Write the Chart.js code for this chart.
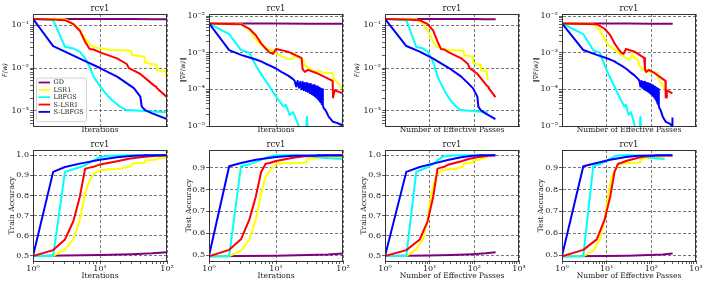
<!DOCTYPE html>
<html>
<head>
<meta charset="utf-8">
<script src="https://cdn.jsdelivr.net/npm/chart.js@4.4.1/dist/chart.umd.min.js"></script>
<style>
  html, body { margin: 0; padding: 0; background: #fff; }
  #fig { position: relative; width: 706px; height: 285px; overflow: hidden; background: #fff; }
  #fig canvas { position: absolute; }
</style>
</head>
<body>
<div id="fig">
  <canvas id="p1"></canvas><canvas id="p2"></canvas><canvas id="p3"></canvas><canvas id="p4"></canvas>
  <canvas id="p5"></canvas><canvas id="p6"></canvas><canvas id="p7"></canvas><canvas id="p8"></canvas>
</div>
<script>
// METHODS
const metodos = ['GD', 'LSR1', 'LBFGS', 'S-LSR1', 'S-LBFGS'];
const cores = ['#800080', '#ffff00', '#00ffff', '#ff0000', '#0000ff'];

// TICKS
const ticksIter = [1, 10, 100];
const ticksPass = [1, 10, 100, 1000];
const ticksLoss = [0.001, 0.01, 0.1];
const ticksGrad = [0.00001, 0.0001, 0.001, 0.01];
const ticksTrain = [0.5, 0.6, 0.7, 0.8, 0.9, 1.0];
const ticksTest = [0.5, 0.6, 0.7, 0.8, 0.9];

// GD
const gdIt = [1, 3, 10, 30, 60, 100];
const gdPass = [1, 9, 30, 90, 180, 300];
const gdLoss = [0.139, 0.139, 0.138, 0.138, 0.137, 0.137];
const gdGrad = [0.0063, 0.0063, 0.0063, 0.0062, 0.0062, 0.0062];
const gdTrain = [0.500, 0.502, 0.505, 0.509, 0.513, 0.518];
const gdTest = [0.495, 0.496, 0.497, 0.500, 0.503, 0.507];

// LSR1
const lsr1It = [1, 2, 3, 4, 5, 6, 7, 8, 10, 14, 20, 25, 29, 30, 46, 47, 70, 71, 95, 100];
const lsr1Pass = [1, 3, 5, 7, 9, 11, 13, 15, 19, 27, 39, 49, 57, 59, 91, 93, 139, 141, 189, 199];
const lsr1Loss = [0.139, 0.139, 0.137, 0.109, 0.0765, 0.049, 0.0355, 0.031, 0.0287, 0.0262, 0.0258, 0.0255, 0.0253, 0.020, 0.0184, 0.0133, 0.0117, 0.0087, 0.0085, 0.0052];
const lsr1Train = [0.5, 0.5, 0.533, 0.582, 0.68, 0.81, 0.876, 0.908, 0.925, 0.93, 0.933, 0.94, 0.945, 0.958, 0.962, 0.974, 0.978, 0.982, 0.988, 0.99];
const lsr1Test = [0.495, 0.495, 0.52, 0.572, 0.662, 0.783, 0.858, 0.885, 0.918, 0.92, 0.921, 0.922, 0.924, 0.94, 0.944, 0.946, 0.948, 0.949, 0.951, 0.952];
const lsr1GradIt = [1, 3, 4, 5, 6, 7, 8, 9, 11, 15, 18, 19, 20, 24, 26, 27, 30, 37, 43, 50, 70, 72, 80, 90, 100];
const lsr1GradPass = [1, 5, 7, 9, 11, 13, 15, 17, 21, 29, 35, 37, 39, 47, 51, 53, 59, 73, 85, 99, 139, 143, 159, 179, 199];
const lsr1Grad = [0.0063, 0.0062, 0.0043, 0.0023, 0.0016, 0.0014, 0.0012, 0.0011, 0.00087, 0.00067, 0.0007, 0.00096, 0.00078, 0.00066, 0.0006, 0.00045, 0.0004, 0.0003, 0.00032, 0.00029, 0.00028, 0.0002, 0.00016, 0.00013, 0.0001];

// LBFGS
const lbfgsIt = [1, 2, 3, 4, 5, 6, 7, 8, 10, 12, 15, 20, 25, 40, 50, 60, 100];
const lbfgsPass = [1, 3, 5, 7, 9, 11, 13, 15, 19, 23, 29, 39, 49, 79, 99, 119, 199];
const lbfgsLoss = [0.139, 0.13, 0.0313, 0.0286, 0.024, 0.0168, 0.0107, 0.0063, 0.0038, 0.0026, 0.0018, 0.00126, 0.00105, 0.00101, 0.001, 0.00097, 0.00093];
const lbfgsTrain = [0.5, 0.5, 0.917, 0.93, 0.94, 0.95, 0.962, 0.974, 0.99, 0.995, 0.997, 0.998, 0.999, 1.0, 1.0, 1.0, 1.0];
const lbfgsTest = [0.495, 0.495, 0.906, 0.915, 0.926, 0.935, 0.944, 0.951, 0.956, 0.957, 0.957, 0.956, 0.954, 0.948, 0.945, 0.943, 0.939];
const lbfgsGradIt = [1, 2, 3, 4, 5, 6, 7, 8, 9, 11, 13, 14, 16, 18, 20, 23, 26, 28, 29, 30, 40, 100];
const lbfgsGradPass = [1, 3, 5, 7, 9, 11, 13, 15, 17, 21, 25, 27, 31, 35, 39, 45, 51, 55, 57, 59, 79, 199];
const lbfgsGrad = [0.0063, 0.0032, 0.00118, 0.001, 0.00045, 0.00026, 0.00017, 0.00012, 0.000085, 0.00005, 0.000034, 0.000038, 0.00002, 0.000024, 0.000015, 0.000008, 0.0000065, 0.000007, 0.000018, 0.000007, 0.000005, 0.000004];

// S-LSR1
const slsr1It = [1, 2, 3, 4, 5, 6, 7, 8, 10, 18, 25, 27, 40, 63, 70, 71, 100];
const slsr1Pass = [1, 3, 6, 9, 12, 15, 18, 21, 27, 51, 72, 78, 117, 186, 207, 210, 297];
const slsr1Loss = [0.139, 0.135, 0.13, 0.105, 0.074, 0.041, 0.0276, 0.027, 0.0231, 0.0168, 0.0124, 0.010, 0.0073, 0.004, 0.0036, 0.0034, 0.0021];
const slsr1Train = [0.5, 0.529, 0.582, 0.672, 0.794, 0.933, 0.938, 0.942, 0.954, 0.97, 0.98, 0.982, 0.99, 0.996, 0.997, 0.997, 1.0];
const slsr1Test = [0.495, 0.524, 0.572, 0.662, 0.768, 0.88, 0.918, 0.921, 0.93, 0.945, 0.951, 0.952, 0.954, 0.955, 0.955, 0.955, 0.955];
const slsr1GradIt = [1, 3, 4, 5, 6, 7, 8, 9, 10, 15, 24, 25, 27, 30, 40, 70, 71, 73, 75, 100];
const slsr1GradPass = [1, 6, 9, 12, 15, 18, 21, 24, 27, 42, 69, 72, 78, 87, 117, 207, 210, 216, 222, 297];
const slsr1Grad = [0.0063, 0.006, 0.0045, 0.003, 0.0018, 0.0013, 0.00102, 0.00093, 0.00126, 0.00107, 0.00072, 0.00035, 0.0003, 0.00034, 0.00028, 0.00017, 0.00006, 0.00006, 0.000094, 0.000078];

// S-LBFGS
const slbfgsIt = [1, 2, 3, 5, 10, 18, 32, 40, 42, 47, 60, 100];
const slbfgsPass = [1, 3, 6, 12, 27, 51, 93, 117, 123, 138, 177, 297];
const slbfgsLoss = [0.139, 0.0325, 0.0241, 0.0166, 0.01, 0.0063, 0.0034, 0.00216, 0.00126, 0.00105, 0.00088, 0.00065];
const slbfgsTrain = [0.5, 0.917, 0.941, 0.958, 0.977, 0.99, 0.997, 0.998, 0.998, 0.999, 0.999, 1.0];
const slbfgsTest = [0.497, 0.906, 0.921, 0.936, 0.948, 0.954, 0.955, 0.955, 0.956, 0.956, 0.956, 0.956];
const slbfgsGradIt = [1, 2, 3, 4, 5, 6, 7, 8, 10, 12, 15, 18,
  19, 20, 21, 22, 23, 24, 25, 26, 27, 28, 29, 30, 31, 32, 33, 34, 35, 36, 37, 38, 39, 40, 41, 42, 43, 44, 45, 46, 47, 48, 49, 50,
  52, 55, 61, 71, 83, 92, 99, 100];
const slbfgsGradPass = [1, 3, 6, 9, 12, 15, 18, 21, 27, 33, 42, 51,
  54, 57, 60, 63, 66, 69, 72, 75, 78, 81, 84, 87, 90, 93, 96, 99, 102, 105, 108, 111, 114, 117, 120, 123, 126, 129, 132, 135, 138, 141, 144, 147,
  153, 162, 180, 210, 246, 273, 294, 297];
const slbfgsGrad = [0.0063, 0.00118, 0.00087, 0.00074, 0.00065, 0.00058, 0.0005, 0.00045, 0.00037, 0.0003, 0.00024, 0.00019,
  0.00017, 0.00012, 0.00017, 0.00011, 0.00016, 0.0001, 0.00016, 0.000095, 0.00015, 0.00009, 0.00015, 0.000085, 0.00014, 0.00008, 0.00014, 0.000075,
  0.00013, 0.00007, 0.00013, 0.000065, 0.00012, 0.00006, 0.00012, 0.000055, 0.00011, 0.00005, 0.00011, 0.000045, 0.0001, 0.00004, 0.0001, 0.000036,
  0.00003, 0.000027, 0.000018, 0.000013, 0.000012, 0.000011, 0.00001, 0.000017];

// groups per panel
const xsIt = [gdIt, lsr1It, lbfgsIt, slsr1It, slbfgsIt];
const xsPass = [gdPass, lsr1Pass, lbfgsPass, slsr1Pass, slbfgsPass];
const xsGradIt = [gdIt, lsr1GradIt, lbfgsGradIt, slsr1GradIt, slbfgsGradIt];
const xsGradPass = [gdPass, lsr1GradPass, lbfgsGradPass, slsr1GradPass, slbfgsGradPass];
const ysLoss = [gdLoss, lsr1Loss, lbfgsLoss, slsr1Loss, slbfgsLoss];
const ysGrad = [gdGrad, lsr1Grad, lbfgsGrad, slsr1Grad, slbfgsGrad];
const ysTrain = [gdTrain, lsr1Train, lbfgsTrain, slsr1Train, slbfgsTrain];
const ysTest = [gdTest, lsr1Test, lbfgsTest, slsr1Test, slbfgsTest];

// styles
const corTxt = '#1a1a1a';
const corEixo = '#333';
const corGrid = '#555';
const fTick = { family: "'DejaVu Serif', serif", size: 8 };
const fRotulo = { family: "'DejaVu Serif', serif", size: 7.5 };
const fMat = { family: "'DejaVu Sans', sans-serif", size: 6.5, style: 'italic' };
const fTitulo = { family: "'DejaVu Serif', serif", size: 8.5, weight: 'normal' };

Chart.defaults.animation = false;
Chart.defaults.font.family = "'DejaVu Serif', serif";

const sup = { '-': '⁻', '0': '⁰', '1': '¹', '2': '²', '3': '³', '4': '⁴', '5': '⁵', '6': '⁶' };
const pot10 = (v) => '10' + String(Math.round(Math.log10(v))).split('').map(c => sup[c]).join('');

// log ticks: decades get label + grid, the rest are only small marks
function marcasLog(maiores, min, max) {
    const out = [];
    for (let e = Math.floor(Math.log10(min)); e <= Math.ceil(Math.log10(max)); e++) {
        for (let k = 1; k <= 9; k++) {
            const v = k * Math.pow(10, e);
            if (v < min * 0.999 || v > max * 1.001) continue;
            out.push({ value: v, big: k === 1 && maiores.some(m => Math.abs(m - v) <= m * 1e-6) });
        }
    }
    return out;
}

// frame + legend inside the axes
const moldura = {
    id: 'moldura',
    afterDatasetsDraw(chart, args, opt) {
        const ctx = chart.ctx, a = chart.chartArea;
        ctx.save();
        ctx.strokeStyle = corEixo;
        ctx.lineWidth = 1;
        ctx.strokeRect(Math.round(a.left) + 0.5, Math.round(a.top) + 0.5,
            Math.round(a.right) - Math.round(a.left) - 1, Math.round(a.bottom) - Math.round(a.top));
        if (opt.legenda) {
            const x0 = a.left + 3, y0 = a.bottom - 48.5;
            ctx.beginPath();
            ctx.roundRect(x0 + 0.5, y0 + 0.5, 50, 43.5, 2);
            ctx.fillStyle = 'rgba(255,255,255,0.85)';
            ctx.fill();
            ctx.strokeStyle = '#c8c8c8';
            ctx.lineWidth = 0.8;
            ctx.stroke();
            ctx.font = "6.5px 'DejaVu Serif', serif";
            ctx.textBaseline = 'middle';
            ctx.fillStyle = corTxt;
            chart.data.datasets.forEach((d, i) => {
                const y = y0 + 5 + i * 7.35;
                ctx.strokeStyle = d.borderColor;
                ctx.lineWidth = 1.8;
                ctx.beginPath();
                ctx.moveTo(x0 + 2.5, y);
                ctx.lineTo(x0 + 14, y);
                ctx.stroke();
                ctx.fillText(d.label, x0 + 17.5, y + 0.3);
            });
        }
        ctx.restore();
    }
};

const paineis = [
    { id: 'p1', left: 0,   top: 0,   row: 0, xMax: 100,  xTicks: ticksIter, xTitulo: 'Iterations', xs: xsIt, ys: ysLoss, y: 'loss', yPad: 1.2, legenda: true },
    { id: 'p2', left: 176, top: 0,   row: 0, xMax: 100,  xTicks: ticksIter, xTitulo: 'Iterations', xs: xsGradIt, ys: ysGrad, y: 'grad', yPad: 3.5 },
    { id: 'p3', left: 352, top: 0,   row: 0, xMax: 1000, xTicks: ticksPass, xTitulo: 'Number of Effective Passes', xs: xsPass, ys: ysLoss, y: 'loss', yPad: 1.2 },
    { id: 'p4', left: 529, top: 0,   row: 0, xMax: 1000, xTicks: ticksPass, xTitulo: 'Number of Effective Passes', xs: xsGradPass, ys: ysGrad, y: 'grad', yPad: 3 },
    { id: 'p5', left: 0,   top: 136, row: 1, xMax: 100,  xTicks: ticksIter, xTitulo: 'Iterations', xs: xsIt, ys: ysTrain, y: 'train', yPad: 7.5 },
    { id: 'p6', left: 176, top: 136, row: 1, xMax: 100,  xTicks: ticksIter, xTitulo: 'Iterations', xs: xsIt, ys: ysTest, y: 'test', yPad: 9 },
    { id: 'p7', left: 352, top: 136, row: 1, xMax: 1000, xTicks: ticksPass, xTitulo: 'Number of Effective Passes', xs: xsPass, ys: ysTrain, y: 'train', yPad: 8 },
    { id: 'p8', left: 529, top: 136, row: 1, xMax: 1000, xTicks: ticksPass, xTitulo: 'Number of Effective Passes', xs: xsPass, ys: ysTest, y: 'test', yPad: 7.5 }
];

const eixosY = {
    loss:  { type: 'logarithmic', min: 0.000447, max: 0.18, ticks: ticksLoss, titulo: 'F(w)', font: fMat },
    grad:  { type: 'logarithmic', min: 0.00001, max: 0.0113, ticks: ticksGrad, titulo: '‖∇F(w)‖', font: fMat },
    train: { type: 'linear', min: 0.475, max: 1.025, ticks: ticksTrain, titulo: 'Train Accuracy', font: fRotulo },
    test:  { type: 'linear', min: 0.473, max: 0.98, ticks: ticksTest, titulo: 'Test Accuracy', font: fRotulo }
};

function desenha(p) {
    const cv = document.getElementById(p.id);
    const h = p.row === 0 ? 136 : 149;
    cv.width = 175; cv.height = h;
    cv.style.left = p.left + 'px';
    cv.style.top = p.top + 'px';
    const ey = eixosY[p.y];

    const datasets = metodos.map((m, i) => ({
        label: m,
        data: p.xs[i].map((x, k) => ({ x: x, y: p.ys[i][k] })),
        borderColor: cores[i],
        backgroundColor: cores[i],
        borderWidth: 2,
        borderJoinStyle: 'round',
        pointRadius: 0,
        tension: 0,
        clip: 0,
        order: metodos.length - i
    }));

    const gradeCor = (c) => (c.tick && c.tick.big ? corGrid : 'rgba(0,0,0,0)');

    new Chart(cv, {
        type: 'line',
        data: { datasets: datasets },
        options: {
            responsive: false,
            devicePixelRatio: 1,
            parsing: false,
            layout: { padding: { left: 0, right: 8, top: 0, bottom: 0 } },
            plugins: {
                legend: { display: false },
                tooltip: { enabled: false },
                title: { display: true, fullSize: false, text: 'rcv1', font: fTitulo, color: corTxt, padding: { top: 3.6, bottom: 0.3 } },
                moldura: { legenda: !!p.legenda }
            },
            scales: {
                x: {
                    type: 'logarithmic', min: 1, max: p.xMax,
                    afterBuildTicks: (s) => { s.ticks = marcasLog(p.xTicks, 1, p.xMax); },
                    afterFit: (s) => { s.height = p.row === 0 ? 10 : 24; },
                    ticks: {
                        display: p.row === 1, autoSkip: false, maxRotation: 0, padding: 0,
                        font: fTick, color: corTxt,
                        callback: (v, i, t) => (t[i] && t[i].big ? pot10(v) : '')
                    },
                    grid: {
                        color: gradeCor, lineWidth: 0.8,
                        tickColor: p.row === 1 ? corEixo : 'rgba(0,0,0,0)', tickLength: 3, tickWidth: 0.8
                    },
                    border: { color: corEixo, width: 1, dash: [3, 2] },
                    title: { display: true, text: p.xTitulo, font: fRotulo, color: corTxt, padding: { top: 0, bottom: p.row === 0 ? 1 : 4 } }
                },
                y: {
                    type: ey.type, min: ey.min, max: ey.max,
                    afterBuildTicks: (s) => {
                        s.ticks = ey.type === 'logarithmic'
                            ? marcasLog(ey.ticks, ey.min, ey.max)
                            : ey.ticks.map(v => ({ value: v, big: true }));
                    },
                    afterFit: (s) => { s.width = 33; },
                    ticks: {
                        autoSkip: false, padding: 1, font: fTick, color: corTxt,
                        callback: (v, i, t) => {
                            if (!t[i] || !t[i].big) return '';
                            return ey.type === 'logarithmic' ? pot10(v) : v.toFixed(1);
                        }
                    },
                    grid: { color: gradeCor, lineWidth: 0.8, tickColor: corEixo, tickLength: 3, tickWidth: 0.8 },
                    border: { color: corEixo, width: 1, dash: [3, 2] },
                    title: { display: true, text: ey.titulo, font: ey.font, color: corTxt, padding: { top: p.yPad, bottom: 0 } }
                }
            }
        },
        plugins: [moldura]
    });
}

paineis.forEach(desenha);
</script>
</body>
</html>
